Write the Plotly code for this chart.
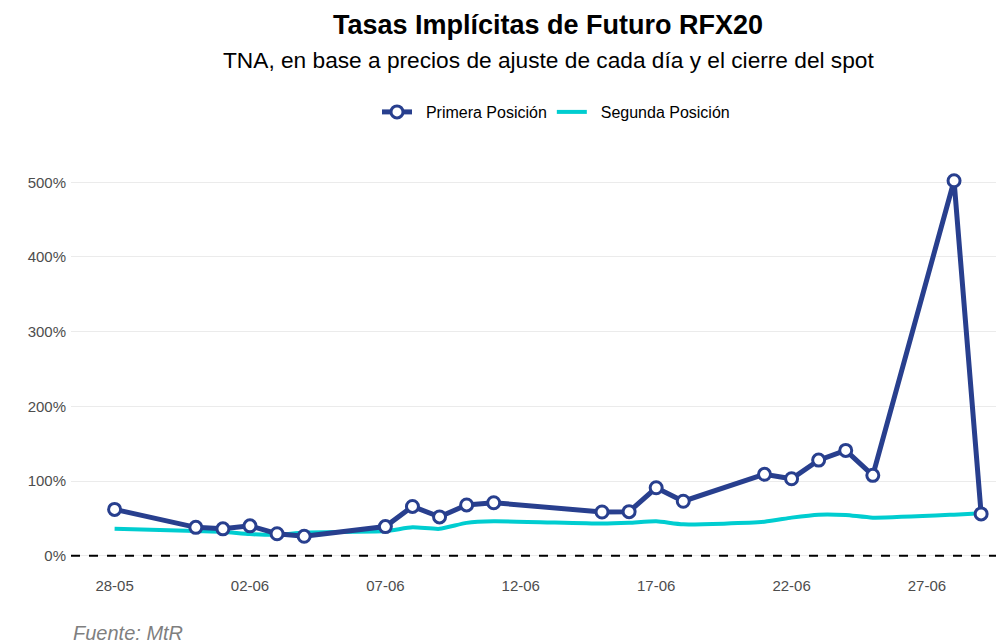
import plotly.graph_objects as go
import pandas as pd

fechas = ["2021-05-28", "2021-05-31", "2021-06-01", "2021-06-02", "2021-06-03", "2021-06-04",
          "2021-06-07", "2021-06-08", "2021-06-09", "2021-06-10", "2021-06-11",
          "2021-06-15", "2021-06-16", "2021-06-17", "2021-06-18",
          "2021-06-21", "2021-06-22", "2021-06-23", "2021-06-24", "2021-06-25",
          "2021-06-28", "2021-06-29"]
primera = [62, 38, 36, 40, 29.5, 26, 39, 66, 52, 68, 71, 58.5, 59, 91, 73,
           109, 103, 128, 141, 107.6, 502, 56]
segunda = [36, 33, 32, 29, 28, 31, 33, 38, 36, 44, 46, 43, 44, 46, 42,
           45.5, 51, 55, 54.5, 51, 55, 57]
tick_vals = ["2021-05-28", "2021-06-02", "2021-06-07", "2021-06-12", "2021-06-17", "2021-06-22", "2021-06-27"]
tick_text = ["28-05", "02-06", "07-06", "12-06", "17-06", "22-06", "27-06"]
y_ticks = [0, 100, 200, 300, 400, 500]

NAVY = "#283f8e"
CYAN = "#00cdd0"
FONT = "Liberation Sans, Arial, sans-serif"

x = pd.to_datetime(fechas)
x0 = pd.Timestamp("2021-05-28")
xr = [x0 - pd.Timedelta(days=1.61), x0 + pd.Timedelta(days=33.14)]

fig = go.Figure()
fig.add_trace(go.Scatter(
    x=x, y=segunda, mode="lines", name="&nbsp;&nbsp;Segunda Posición",
    line=dict(color=CYAN, width=4, shape="spline", smoothing=0.6),
    legendrank=2))
fig.add_trace(go.Scatter(
    x=x, y=primera, mode="lines+markers", name="&nbsp;&nbsp;Primera Posición",
    line=dict(color=NAVY, width=5),
    marker=dict(size=12, color="white", line=dict(color=NAVY, width=3)),
    legendrank=1))

fig.add_shape(type="line", xref="paper", x0=0, x1=1, yref="y", y0=0, y1=0,
              line=dict(color="black", width=2, dash="dash"), layer="above")

fig.update_layout(
    width=1004, height=642,
    margin=dict(l=63, r=0, t=155, b=75),
    paper_bgcolor="white", plot_bgcolor="white",
    font=dict(family=FONT, color="#4d4d4d", size=15),
    title=dict(text="<b>Tasas Implícitas de Futuro RFX20</b>",
               x=540 / 1004, xanchor="center", y=1 - 17 / 642, yanchor="middle",
               font=dict(family=FONT, size=27, color="black")),
    showlegend=True,
    legend=dict(orientation="h", x=(548 - 63) / 941, xanchor="center",
                y=(567 - 104) / 412, yanchor="middle",
                font=dict(family=FONT, size=16, color="black"),
                itemwidth=30, bgcolor="rgba(0,0,0,0)"),
    annotations=[
        dict(text="TNA, en base a precios de ajuste de cada día y el cierre del spot",
             xref="paper", yref="paper", x=(540 - 63) / 941, xanchor="center",
             y=(567 - 52) / 412, yanchor="middle", showarrow=False,
             font=dict(family=FONT, size=22.7, color="black")),
        dict(text="<i>Fuente: MtR</i>", xref="paper", yref="paper",
             x=0.0, xanchor="left", y=(567 - 625) / 412, yanchor="middle",
             showarrow=False, font=dict(family=FONT, size=20, color="#7f7f7f")),
    ],
)
fig.update_xaxes(range=xr, tickvals=pd.to_datetime(tick_vals), ticktext=tick_text,
                 showgrid=False, zeroline=False, showline=False, ticks="",
                 tickfont=dict(family=FONT, size=15, color="#4d4d4d"))
fig.update_yaxes(range=[-25.8, 525.8], tickvals=y_ticks,
                 ticktext=[f"{v}%" for v in y_ticks],
                 showgrid=True, gridcolor="#ebebeb", gridwidth=1,
                 zeroline=False, showline=False, ticks="", ticklabelstandoff=4,
                 tickfont=dict(family=FONT, size=15, color="#4d4d4d"))

fig.write_html("out.html")
